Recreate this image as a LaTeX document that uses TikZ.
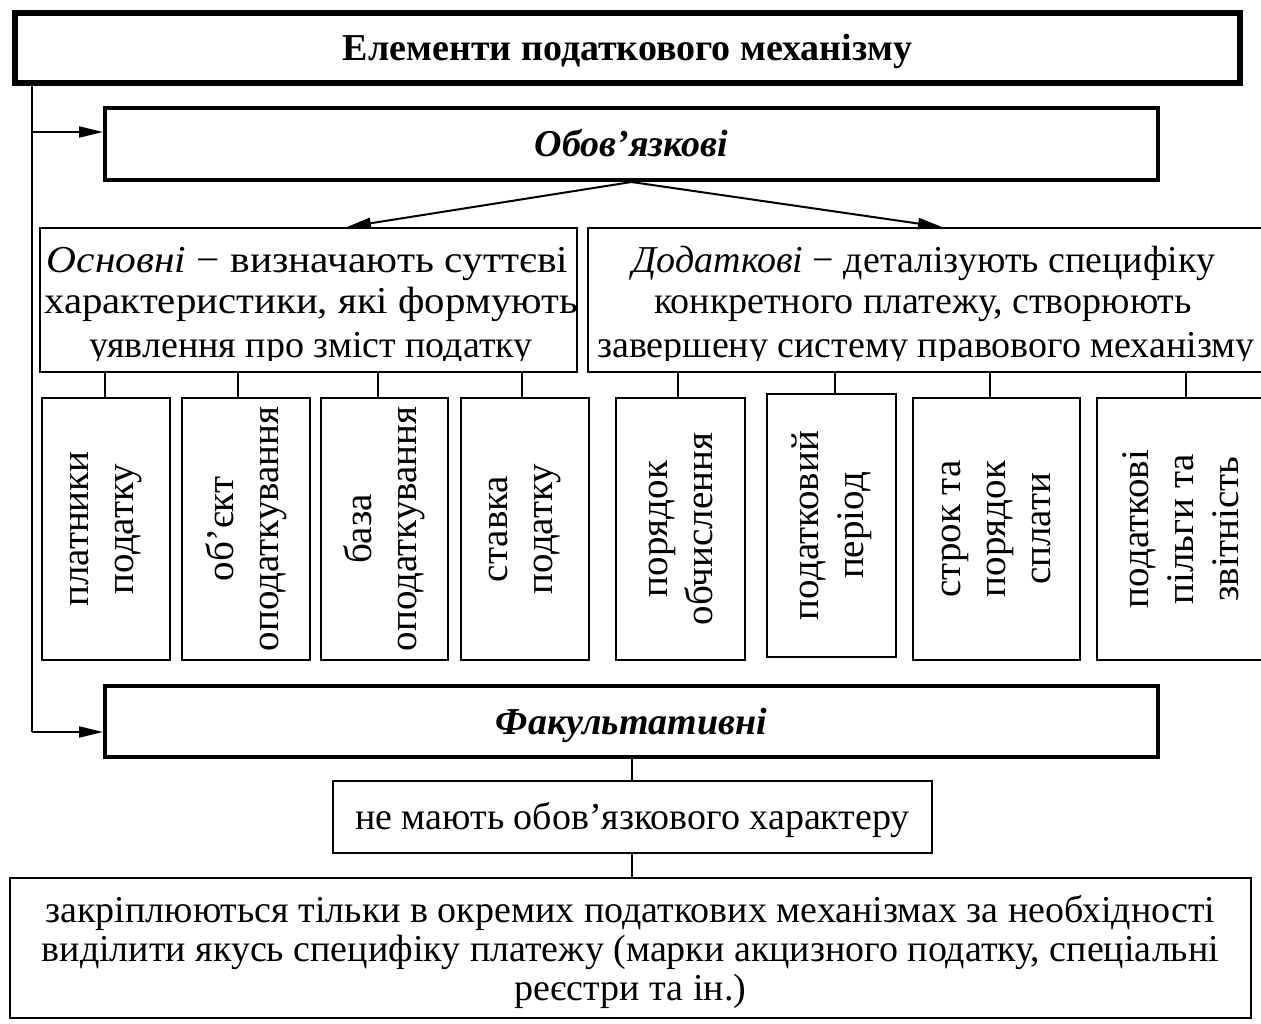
\documentclass[tikz,border=0pt]{standalone}
\usepackage{graphicx}
\usepackage{fontspec}
\setmainfont{Liberation Serif}
\usetikzlibrary{arrows.meta}
\begin{document}
\begin{tikzpicture}[x=1pt,y=-1pt,
  box/.style={draw, line width=2pt, inner sep=0pt, anchor=center},
  heavybox/.style={box, line width=4pt},
  txt/.style={font=\fontsize{38}{41}\selectfont, inner sep=0pt},
  vtxt/.style={font=\fontsize{39}{45}\selectfont, inner sep=0pt, rotate=90, align=center},
  conn/.style={line width=2pt},
  arr/.style={line width=2pt, -{Triangle[length=24pt,width=11pt]}}
  ]
\useasboundingbox (0,0) rectangle (1261,1024);
\clip (0,0) rectangle (1261,1024);
% top title box
\node[box, line width=5.5pt, minimum width=1225pt, minimum height=70pt,
      font=\fontsize{38}{41}\selectfont\bfseries, text height=25pt, text depth=0pt]
      (top) at (627.5,48) {Елементи податкового механізму};
% obligatory
\node[heavybox, minimum width=1053pt, minimum height=72pt,
      font=\fontsize{38}{41}\selectfont\bfseries\itshape, text height=25pt, text depth=0pt]
      (obov) at (631.5,144) {Обов’язкові};
% text boxes
\begin{scope}
\clip (40,228) rectangle (577,360);
\node[txt, anchor=base] (o1) at (307.5,273) {\scalebox{1.09}[1]{\textit{Основні} − визначають суттєві}};
\node[txt, anchor=base] (o2) at (311,314) {\scalebox{1.075}[1]{характеристики, які формують}};
\node[txt, anchor=base] (o3) at (311,357) {уявлення про зміст податку};
\end{scope}
\begin{scope}
\clip (588,228) rectangle (1264,360);
\node[txt, anchor=base] (d1) at (924,273) {\textit{Додаткові} − деталізують специфіку};
\node[txt, anchor=base] (d2) at (923,314) {конкретного платежу, створюють};
\node[txt, anchor=base] (d3) at (926,357) {завершену систему правового механізму};
\end{scope}
\node[box, minimum width=537pt, minimum height=144pt] (osn) at (308.5,300) {};
\node[box, minimum width=676pt, minimum height=144pt] (dod) at (926,300) {};
% small vertical boxes
\node[box, minimum width=128pt, minimum height=262pt] (b1) at (106,529) {};
\node[box, minimum width=128pt, minimum height=262pt] (b2) at (246,529) {};
\node[box, minimum width=127pt, minimum height=262pt] (b3) at (384.5,529) {};
\node[box, minimum width=128pt, minimum height=262pt] (b4) at (525,529) {};
\node[box, minimum width=129pt, minimum height=262pt] (b5) at (680.5,529) {};
\node[box, minimum width=129pt, minimum height=263pt] (b6) at (831.5,525.5) {};
\node[box, minimum width=167pt, minimum height=262pt] (b7) at (996.5,529) {};
\node[box, minimum width=168pt, minimum height=262pt] (b8) at (1181,529) {};
\node[vtxt] (t1) at (b1.center) {платники\\податку};
\node[vtxt] (t2) at (b2.center) {об’єкт\\оподаткування};
\node[vtxt] (t3) at (b3.center) {база\\оподаткування};
\node[vtxt] (t4) at (b4.center) {ставка\\податку};
\node[vtxt] (t5) at (b5.center) {порядок\\обчислення};
\node[vtxt] (t6) at (b6.center) {податковий\\період};
\node[vtxt] (t7) at (b7.center) {строк та\\порядок\\сплати};
\node[vtxt] (t8) at (b8.center) {податкові\\пільги та\\звітність};
% connector x positions
\coordinate (x1) at (105,0);
\coordinate (x2) at (238,0);
\coordinate (x3) at (378,0);
\coordinate (x4) at (522,0);
\coordinate (x5) at (678,0);
\coordinate (x6) at (835,0);
\coordinate (x7) at (990,0);
\coordinate (x8) at (1186,0);
\foreach \i in {1,2,3,4} \draw[conn] (osn.south -| x\i) -- (b\i.north -| x\i);
\foreach \i in {5,6,7,8} \draw[conn] (dod.south -| x\i) -- (b\i.north -| x\i);
% arrows from obligatory
\coordinate (ta) at (347,0);
\coordinate (tb) at (942,0);
\draw[arr] (obov.south) -- (osn.north -| ta);
\draw[arr] (obov.south) -- (dod.north -| tb);
% facultative
\node[heavybox, minimum width=1053pt, minimum height=71pt,
      font=\fontsize{38}{41}\selectfont\bfseries\itshape, text height=25pt, text depth=0pt]
      (fak) at (631.5,721.5) {Факультативні};
% left spine
\coordinate (L1) at (32,132);
\coordinate (L2) at (32,732);
\draw[conn] (top.south -| L1) -- (L2);
\draw[arr] (L2) -- (L2 -| fak.west);
\draw[arr] (L1) -- (L1 -| obov.west);
% lower boxes
\node[box, minimum width=599pt, minimum height=72pt, font=\fontsize{38}{41}\selectfont,
      text height=25pt, text depth=0pt] (nema) at (632.5,817) {не мають обов’язкового характеру};
\node[box, minimum width=1241pt, minimum height=140pt] (fin) at (630.5,948) {};
\node[txt, anchor=base] (f1) at (630.5,922) {закріплюються тільки в окремих податкових механізмах за необхідності};
\node[txt, anchor=base] (f2) at (630.5,961) {виділити якусь специфіку платежу (марки акцизного податку, спеціальні};
\node[txt, anchor=base] (f3) at (630.5,1000) {реєстри та ін.)};
\coordinate (xm) at (632,0);
\draw[conn] (fak.south -| xm) -- (nema.north -| xm);
\draw[conn] (nema.south -| xm) -- (fin.north -| xm);
\end{tikzpicture}
\end{document}
